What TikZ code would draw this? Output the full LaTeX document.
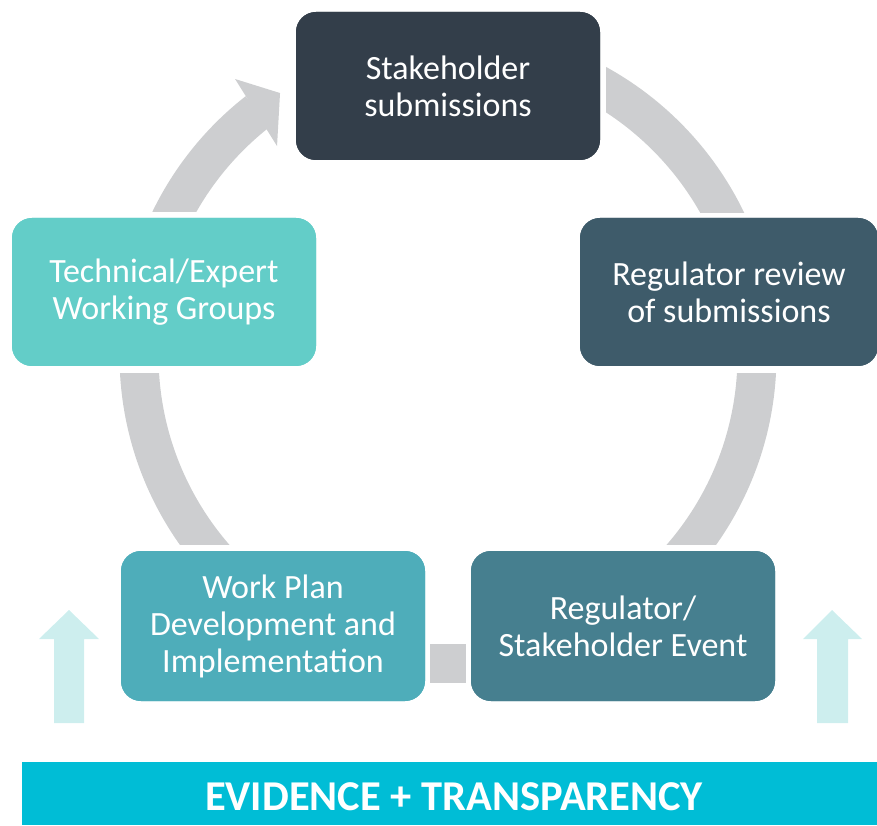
\documentclass[tikz,border=0pt]{standalone}
\usepackage{fontspec}
\setmainfont{Carlito}
\usetikzlibrary{calc}
\definecolor{ringgray}{HTML}{CDCED0}
\definecolor{cSH}{HTML}{333E4A}
\definecolor{cRR}{HTML}{3E5B6A}
\definecolor{cTE}{HTML}{63CDC8}
\definecolor{cWP}{HTML}{4EADBA}
\definecolor{cEV}{HTML}{467F8F}
\definecolor{cLight}{HTML}{CDEEEE}
\definecolor{cBand}{HTML}{00BDD6}
\tikzset{
  stagebox/.style={rectangle, rounded corners=20pt, inner sep=0pt, minimum height=148pt,
    minimum width=304pt, text=white, align=center,
    font=\fontsize{34}{37}\selectfont},
  ring/.style={draw=ringgray, line width=39pt},
  lightarrow/.style={fill=cLight},
}
\begin{document}
\begin{tikzpicture}[x=1pt,y=1pt]
\useasboundingbox (0,0) rectangle (877,825);
\coordinate (c) at (448,470);
% boxes (placed first so anchors exist; redrawn on top below)
\path
  node[stagebox, fill=cSH] (sh) at (448,739) {Stakeholder\\submissions}
  node[stagebox, fill=cRR, minimum width=298pt] (rr) at (729,533) {Regulator review\\of submissions}
  node[stagebox, fill=cTE] (te) at (164,533) {Technical/Expert\\Working Groups}
  node[stagebox, fill=cWP, minimum height=150pt] (wp) at (273,199) {Work Plan\\Development and\\Implementation}
  node[stagebox, fill=cEV, minimum height=150pt] (ev) at (623,199) {Regulator/\\Stakeholder Event};
% ring pieces
\begin{scope}
  \clip ($(te.south)+(-200,-7)$) rectangle ($(wp.north)+(175,6)$);
  \draw[ring] (c) circle[radius=309];
\end{scope}
\begin{scope}
  \clip ($(rr.south)+(-281,-7)$) rectangle ($(ev.north)+(260,6)$);
  \draw[ring] (c) circle[radius=309];
\end{scope}
\begin{scope}
  \clip ($(sh.east)+(6,90)$) rectangle ($(rr.north)+(160,5)$);
  \draw[ring] (c) circle[radius=309];
\end{scope}
\begin{scope}
  \clip ($(te.north)+(-170,6)$) rectangle ($(sh.south)+(0,100)$);
  \draw[ring] ($(c)+(128:309)$) arc[start angle=128, end angle=175, radius=309];
\end{scope}
\fill[ringgray] ($(c)+(127.65:348.6)$) -- ($(c)+(122.67:311.2)$) -- ($(c)+(129.29:270)$) -- cycle;
\fill[ringgray] ($(wp.east)+(5,-57)$) rectangle ($(ev.west)+(-5,-18)$);
% boxes on top
\path
  node[stagebox, fill=cSH] at (sh) {Stakeholder\\submissions}
  node[stagebox, fill=cRR, minimum width=298pt] at (rr) {Regulator review\\of submissions}
  node[stagebox, fill=cTE] at (te) {Technical/Expert\\Working Groups}
  node[stagebox, fill=cWP, minimum height=150pt] at (wp) {Work Plan\\Development and\\Implementation}
  node[stagebox, fill=cEV, minimum height=150pt] at (ev) {Regulator/\\Stakeholder Event};
% light arrows
\fill[lightarrow] (54,102) -- (54,186) -- (39,186) -- (69,215) -- (99,186) -- (84,186) -- (84,102) -- cycle;
\fill[lightarrow] (817,102) -- (817,186) -- (803,186) -- (832,215) -- (862,186) -- (848,186) -- (848,102) -- cycle;
% band
\fill[cBand] (22,0) rectangle (880,63);
\node[text=white, font=\fontsize{42.5}{50}\selectfont\bfseries, inner sep=0pt] (band) at (454,28) {EVIDENCE + TRANSPARENCY};
\end{tikzpicture}
\end{document}
